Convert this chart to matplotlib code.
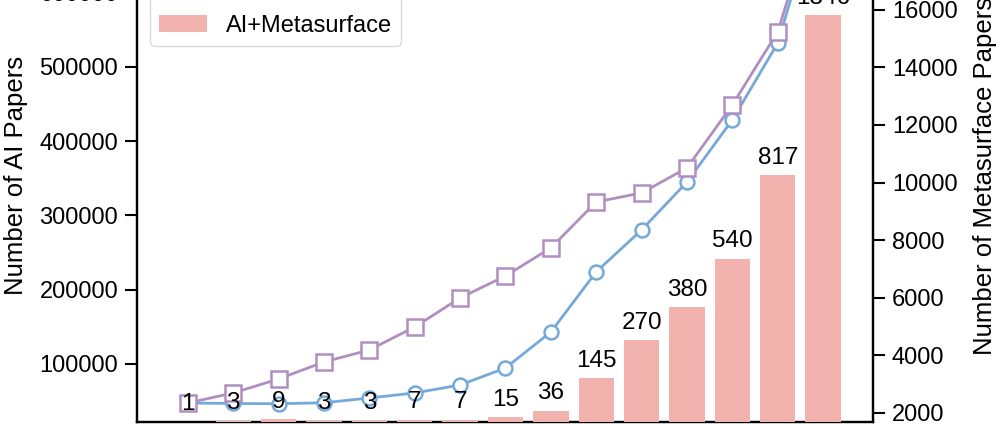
import matplotlib.pyplot as plt
import numpy as np

plt.rcParams['font.family'] = ['Liberation Sans', 'DejaVu Sans']

# yearly index (the x tick labels are cropped off in the reference)
years = np.arange(15)

# AI papers (left axis), blue circles
ai_papers = [47500, 46800, 46500, 47800, 54200, 61000, 71700, 94600,
             143000, 224000, 280500, 345000, 428600, 532000, 737000]
# Metasurface papers (right axis), purple squares
meta_papers = [2347, 2694, 3180, 3771, 4187, 4986, 5993, 6757,
               7729, 9326, 9638, 10506, 12694, 15229, 20333]
# AI+Metasurface papers (bars, hidden axis)
ai_meta = [1, 3, 9, 3, 3, 7, 7, 15, 36, 145, 270, 380, 540, 817, 1346]

blue = '#74A9DB'
purple = '#B08FC0'
pink = '#F2B2AE'

fig = plt.figure(figsize=(10, 4.25), dpi=100)
ax = fig.add_axes([0.137, 0.00706, 0.736, 1.158])   # top of axes is cropped, like the reference
ax2 = ax.twinx()
ax3 = ax.twinx()

l1, = ax.plot(years, ai_papers, color=blue, lw=2, marker='o', ms=10,
              mfc='white', mec=blue, mew=1.8, label='AI')
l2, = ax2.plot(years, meta_papers, color=purple, lw=2, marker='s', ms=11,
               mfc='white', mec=purple, mew=1.8, label='Metasurface')
bars = ax3.bar(years, ai_meta, width=0.78, color=pink, label='AI+Metasurface', zorder=1)
for x, v in zip(years, ai_meta):
    ax3.text(x, v + 22, str(v), ha='center', va='bottom', fontsize=17.5)

ax.set_xlim(-1.12, 15.1)
ax.set_ylim(21886, 684500)
ax2.set_ylim(1687, 18770)
ax3.set_ylim(0, 1629)
ax3.axis('off')
ax2.set_zorder(1)
ax3.set_zorder(2)
ax2.patch.set_visible(False)

ax.set_yticks([100000, 200000, 300000, 400000, 500000, 600000])
ax2.set_yticks(np.arange(2000, 18001, 2000))
ax.set_xticks([])

for a in (ax, ax2):
    a.tick_params(axis='y', labelsize=17, length=8.5, width=1.5, pad=5, direction='out')
    for s in a.spines.values():
        s.set_linewidth(1.6)

ax.set_ylabel('Number of AI Papers', fontsize=18.5, labelpad=8)
ax2.set_ylabel('Number of Metasurface Papers', fontsize=18.5, labelpad=11)

fig.legend(handles=[l1, l2, bars], loc='lower left',
           bbox_to_anchor=(0.15, 1 - 46 / 425), borderaxespad=0,
           fontsize=17, framealpha=1, edgecolor='#d8d8d8', handlelength=2.0)

fig.savefig('out.png', dpi=100)
